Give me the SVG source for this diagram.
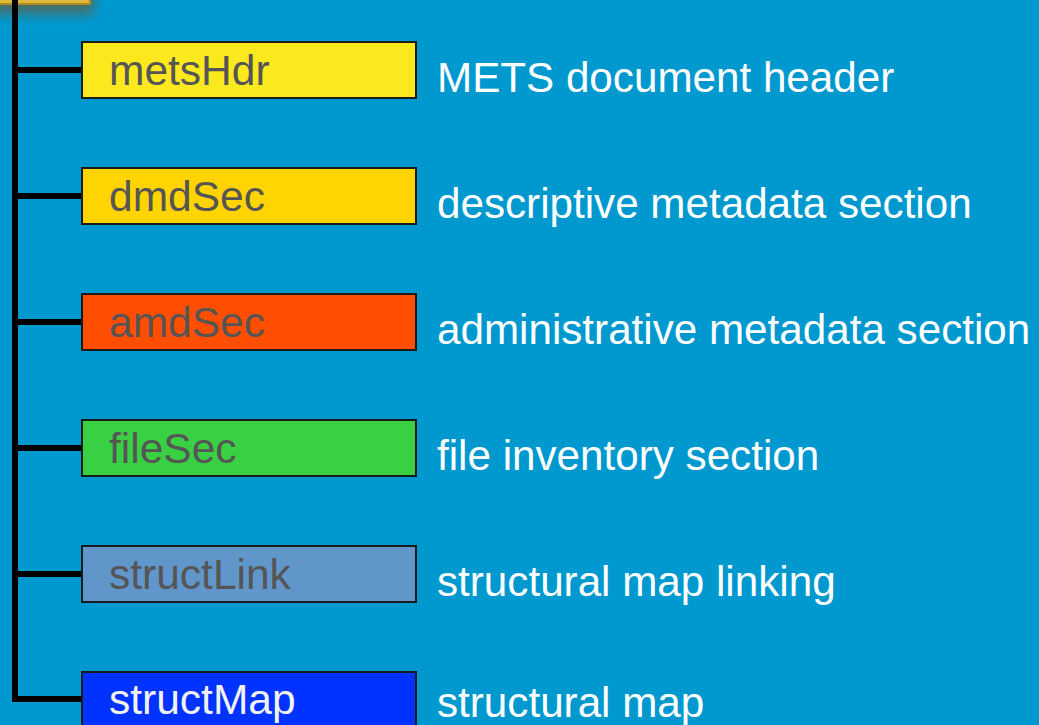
<svg xmlns="http://www.w3.org/2000/svg" width="1039" height="725" viewBox="0 0 1039 725">
<defs>
<style>
.box{stroke:#1a1a1a;stroke-width:2}
.lbl{font-family:"Liberation Sans",Arial,sans-serif;font-size:42.5px;fill:#555555}
.desc{font-family:"Liberation Sans",Arial,sans-serif;font-size:42.2px;fill:#ffffff}
.conn{stroke:#000000;stroke-width:6;fill:none}
</style>
<filter id="glow" x="-50%" y="-50%" width="200%" height="200%">
<feGaussianBlur stdDeviation="6"/>
</filter>
</defs>
<rect x="0" y="0" width="1039" height="725" fill="#0099cf"/>
<g id="root">
<rect x="-10" y="-30" width="104" height="44" fill="#6b5a3a" opacity="0.7" filter="url(#glow)"/>
<rect x="-5" y="-40" width="95" height="44" fill="#e0b83a" stroke="#b08a1c" stroke-width="2"/>
</g>
<g id="connectors">
<path class="conn" d="M15,0 V699 H82"/>
<path class="conn" d="M15,70 H82"/>
<path class="conn" d="M15,196 H82"/>
<path class="conn" d="M15,322 H82"/>
<path class="conn" d="M15,448 H82"/>
<path class="conn" d="M15,574 H82"/>
</g>
<g id="metsHdr">
<rect class="box" x="82" y="42" width="334" height="56" fill="#fbe91e"/>
<text class="lbl" x="109" y="85">metsHdr</text>
<text class="desc" x="437" y="92">METS document header</text>
</g>
<g id="dmdSec">
<rect class="box" x="82" y="168" width="334" height="56" fill="#ffd400"/>
<text class="lbl" x="109" y="211">dmdSec</text>
<text class="desc" x="437" y="218">descriptive metadata section</text>
</g>
<g id="amdSec">
<rect class="box" x="82" y="294" width="334" height="56" fill="#ff4e00"/>
<text class="lbl" x="109" y="337">amdSec</text>
<text class="desc" x="437" y="344">administrative metadata section</text>
</g>
<g id="fileSec">
<rect class="box" x="82" y="420" width="334" height="56" fill="#39d143"/>
<text class="lbl" x="109" y="463">fileSec</text>
<text class="desc" x="437" y="470">file inventory section</text>
</g>
<g id="structLink">
<rect class="box" x="82" y="546" width="334" height="56" fill="#6096ca"/>
<text class="lbl" x="109" y="589">structLink</text>
<text class="desc" x="437" y="596">structural map linking</text>
</g>
<g id="structMap">
<rect class="box" x="82" y="672" width="334" height="56" fill="#0033ff"/>
<text class="lbl" x="109" y="714" style="fill:#f2f2f2">structMap</text>
<text class="desc" x="437" y="717">structural map</text>
</g>
</svg>
